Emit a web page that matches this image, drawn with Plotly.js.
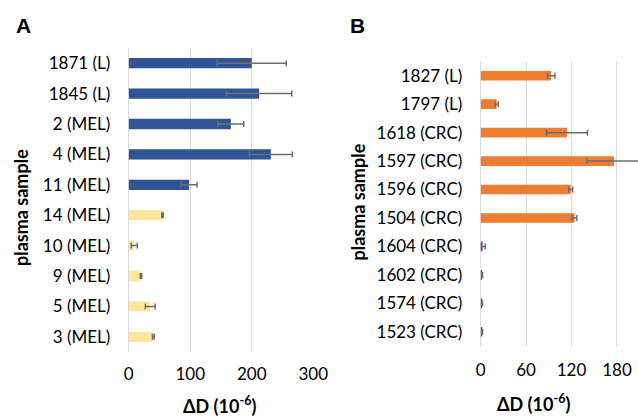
<!DOCTYPE html>
<html>
<head>
<meta charset="utf-8">
<script src="https://cdn.plot.ly/plotly-3.0.1.min.js"></script>
<style>html,body{margin:0;padding:0;background:#fff;}#chart{width:638px;height:418px;}</style>
</head>
<body>
<div id="chart"></div>
<script>
// Panel A data
const samplesA = ['1871 (L)','1845 (L)','2 (MEL)','4 (MEL)','11 (MEL)','14 (MEL)','10 (MEL)','9 (MEL)','5 (MEL)','3 (MEL)'];
const valuesA = [200, 212, 166, 231, 98, 55, 9, 20, 35, 40];
const errorsA = [56, 53, 21, 35, 13, 1.2, 5, 1.2, 8, 1.5];
const colorsA = ['#2F5597','#2F5597','#2F5597','#2F5597','#2F5597','#FFE699','#FFE699','#FFE699','#FFE699','#FFE699'];
const ticksA = [0, 100, 200, 300];

// Panel B data
const samplesB = ['1827 (L)','1797 (L)','1618 (CRC)','1597 (CRC)','1596 (CRC)','1504 (CRC)','1604 (CRC)','1602 (CRC)','1574 (CRC)','1523 (CRC)'];
const valuesB = [93, 21, 114, 176, 119, 124, 2.5, 2, 2, 2];
const errorsB = [5, 2, 27, 36, 2.5, 3, 3.5, 0.4, 0.4, 0.4];
const colorsB = ['#ED7D31','#ED7D31','#ED7D31','#ED7D31','#ED7D31','#ED7D31','#7030A0','#7030A0','#7030A0','#7030A0'];
const ticksB = [0, 60, 120, 180];

const W = 638, H = 418;
const font = 'Lato, "Open Sans", sans-serif';
const errStyle = {type:'data', visible:true, color:'#6E6E6E', thickness:1.5, width:3};

const traces = [
  {type:'bar', orientation:'h', y:samplesA, x:valuesA, width:0.34,
   marker:{color:colorsA}, error_x:Object.assign({array:errorsA}, errStyle),
   xaxis:'x', yaxis:'y', hoverinfo:'x+y'},
  {type:'bar', orientation:'h', y:samplesB, x:valuesB, width:0.34,
   marker:{color:colorsB}, error_x:Object.assign({array:errorsB}, errStyle),
   xaxis:'x2', yaxis:'y2', hoverinfo:'x+y'}
];

const axFont = {family:font, size:17, color:'#000'};
const xcommon = {showgrid:true, gridcolor:'#D9D9D9', gridwidth:1, zeroline:true, zerolinecolor:'#D9D9D9', zerolinewidth:1,
  showline:false, ticks:'outside', tickcolor:'rgba(0,0,0,0)', tickfont:axFont, fixedrange:true};
const ycommon = {type:'category', autorange:'reversed', showgrid:false, zeroline:false, showline:false,
  ticks:'outside', ticklen:14, tickcolor:'rgba(0,0,0,0)', tickfont:axFont, fixedrange:true};

const layout = {
  width:W, height:H, margin:{l:0,r:0,t:0,b:0}, paper_bgcolor:'#fff', plot_bgcolor:'#fff',
  showlegend:false, font:{family:font},
  xaxis:Object.assign({}, xcommon, {domain:[128.7/W, 313.3/W], range:[0,300], tickvals:ticksA, ticktext:ticksA.map(String), ticklen:7, anchor:'y'}),
  yaxis:Object.assign({}, ycommon, {domain:[1-352/H, 1-48/H], anchor:'x'}),
  xaxis2:Object.assign({}, xcommon, {domain:[480.7/W, 1], range:[0,207.8], tickvals:ticksB, ticktext:ticksB.map(String), ticklen:9, anchor:'y2'}),
  yaxis2:Object.assign({}, ycommon, {domain:[1-346/H, 1-61.5/H], anchor:'x2'}),
  annotations:[
    {text:'<b>A</b>', x:23/W, y:1-25/H, xref:'paper', yref:'paper', showarrow:false, xanchor:'center', yanchor:'middle', font:{family:'Liberation Sans, Arial, sans-serif', size:21, color:'#000'}},
    {text:'<b>B</b>', x:357.5/W, y:1-25/H, xref:'paper', yref:'paper', showarrow:false, xanchor:'center', yanchor:'middle', font:{family:'Liberation Sans, Arial, sans-serif', size:21, color:'#000'}},
    {text:'<b>plasma sample</b>', x:21/W, y:1-208/H, xref:'paper', yref:'paper', showarrow:false, textangle:-90, xanchor:'center', yanchor:'middle', font:{family:font, size:18, color:'#000'}},
    {text:'<b>plasma sample</b>', x:357.5/W, y:1-202/H, xref:'paper', yref:'paper', showarrow:false, textangle:-90, xanchor:'center', yanchor:'middle', font:{family:font, size:18, color:'#000'}},
    {text:'<b>ΔD (10<sup>-6</sup>)</b>', x:219/W, y:1-405/H, xref:'paper', yref:'paper', showarrow:false, xanchor:'center', yanchor:'middle', font:{family:font, size:18, color:'#000'}},
    {text:'<b>ΔD (10<sup>-6</sup>)</b>', x:533/W, y:1-403/H, xref:'paper', yref:'paper', showarrow:false, xanchor:'center', yanchor:'middle', font:{family:font, size:18, color:'#000'}}
  ]
};

Plotly.newPlot('chart', traces, layout, {displayModeBar:false, staticPlot:true});
</script>
</body>
</html>
